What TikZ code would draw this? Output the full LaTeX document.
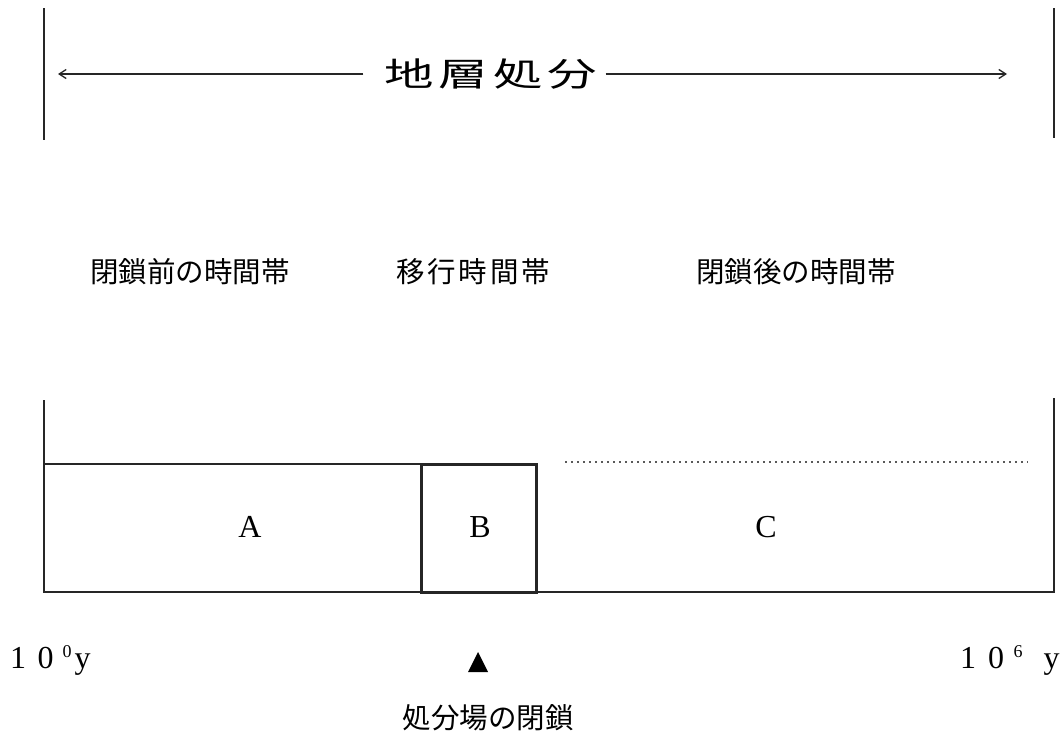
\documentclass[tikz,border=0pt]{standalone}
\usepackage{fontspec}
\usepackage{graphicx}
\setmainfont{Liberation Serif}
\newfontfamily\jp{Noto Sans CJK JP}
\newfontfamily\jpwide[LetterSpace=10]{Noto Sans CJK JP}
\newfontfamily\jpmid[LetterSpace=10]{Noto Sans CJK JP}
\usetikzlibrary{arrows.meta}
\tikzset{
  thinline/.style={line width=1.5pt, black!85},
  boldline/.style={line width=3pt, black!85},
  jplabel/.style={font=\jp\fontsize{28.5}{30}\selectfont, inner sep=0pt},
  letter/.style={font=\fontsize{32}{34}\selectfont, inner sep=0pt},
  tick/.style={font=\fontsize{32}{34}\selectfont, inner sep=0pt},
  barb/.style={-{Straight Barb[length=7pt,width=9pt,line width=1.3pt]}}
}
\newcommand{\supd}[1]{{\fontsize{18}{18}\selectfont\raisebox{11pt}{#1}}}
\begin{document}
\begin{tikzpicture}[x=1pt,y=-1pt]
\useasboundingbox[fill=white] (0,0) rectangle (1061,739);
% top extent lines
\coordinate (tl1) at (44,8);   \coordinate (tl2) at (44,140);
\coordinate (tr1) at (1054,8); \coordinate (tr2) at (1054,138);
\draw[thinline] (tl1) -- (tl2);
\draw[thinline] (tr1) -- (tr2);
% title with arrows
\node[font=\jpwide\fontsize{33}{36}\selectfont, inner sep=0pt] (title) at (491,74) {\scalebox{1.5}[1]{地層処分}};
\coordinate (al) at (58,74);
\coordinate (ar) at (1007,74);
\draw[thinline, barb] (title.west) ++(-21,0) coordinate (tw) -- (al);
\draw[thinline, barb] (title.east) ++(8,0) coordinate (te) -- (ar);
% period labels
\node[jplabel] (pre) at (190,272) {閉鎖前の時間帯};
\node[jplabel, font=\jpmid\fontsize{28.5}{30}\selectfont] (mid) at (473,272) {移行時間帯};
\node[jplabel] (post) at (796,272) {閉鎖後の時間帯};
% lower frame
\coordinate (bl1) at (44,400);  \coordinate (bl2) at (44,592);
\coordinate (br1) at (1054,398); \coordinate (br2) at (1054,592);
\draw[thinline] (bl1) -- (bl2) -- (br2) -- (br1);
% box B
\node[draw, boldline, minimum width=115pt, minimum height=128pt, inner sep=0pt, outer sep=0pt] (Bbox) at (478.5,528) {};
\coordinate (atop) at (44,464);
\draw[thinline] (atop) -- (atop -| Bbox.west);
% dotted line for C
\coordinate (c1) at (565,462); \coordinate (c2) at (1028,462);
\draw[line width=1.2pt, black!65, dash pattern=on 2pt off 4pt] (c1) -- (c2);
% region labels
\node[letter] (A) at (250,527) {A};
\node[letter] (B) at (480,527) {B};
\node[letter] (C) at (766,527) {C};
% time ticks
\node[tick, anchor=base west] (t0) at (10,668) {1\hspace{11.5pt}0\hspace{9pt}\supd{0}\hspace{3pt}y};
\node[tick, anchor=base west] (t6) at (960,668) {1\hspace{12pt}0\hspace{9.5pt}\supd{6}\hspace{21pt}y};
% closure marker
\coordinate (tri) at (478,662);
\fill[black] (468,672) -- (488,672) -- (478,652) -- cycle;
\node[jplabel] (closure) at (488,718) {処分場の閉鎖};
\end{tikzpicture}
\end{document}
